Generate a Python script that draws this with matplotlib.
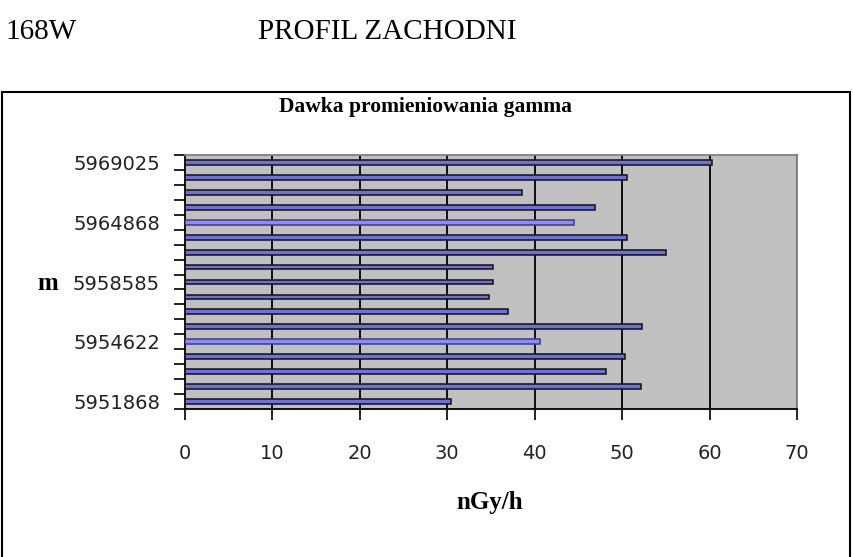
import matplotlib
matplotlib.use("Agg")
import matplotlib.pyplot as plt
from matplotlib.patches import Rectangle


# northing labels, top to bottom (only every 4th one is printed on the chart)
northing = [
    "5969025", "", "", "",
    "5964868", "", "", "",
    "5958585", "", "", "",
    "5954622", "", "", "",
    "5951868"
]

# gamma dose rate, nGy/h, top to bottom
dose = [
    60.3, 50.6, 38.5, 46.9,
    44.5, 50.6, 55.0, 35.2,
    35.2, 34.8, 37.0, 52.3,
    40.6, 50.3, 48.2, 52.1,
    30.4
]

# bars drawn in the lighter shade
light_bars = [4, 12]

xticks = [0, 10, 20, 30, 40, 50, 60, 70]


fig = plt.figure(figsize=(8.54, 5.57), dpi=100)
ax = fig.add_axes([185 / 854, 1 - 409 / 557, 612 / 854, 254 / 557])

ax.set_facecolor("#c0c0c0")

pos = list(range(len(dose)))
colors = ["#8c8cff" if i in light_bars else "#6f6fe0" for i in pos]
edges = ["#3c3c7c" if i in light_bars else "#111111" for i in pos]

ax.barh(pos, dose, height=0.32, color=colors, edgecolor=edges,
        linewidth=1.1, zorder=3)

ax.set_xlim(0, 70)
ax.set_ylim(len(dose) - 0.5, -0.5)

ax.set_xticks(xticks)
ax.set_xticklabels([str(t) for t in xticks])
for t in xticks[1:]:
    ax.axvline(t, color="black", linewidth=1.3, zorder=2)

# category boundary ticks, labels on every 4th category
ax.set_yticks([p - 0.5 for p in pos] + [len(dose) - 0.5], minor=True)
label_pos = [p for p in pos if northing[p]]
ax.set_yticks(label_pos)
ax.set_yticklabels([northing[p] for p in label_pos])

ax.tick_params(axis="y", which="major", length=0, pad=18,
               labelsize=14, labelcolor="#222222")
ax.tick_params(axis="y", which="minor", length=8, width=1.2, direction="out")
ax.tick_params(axis="x", length=8, width=1.2, direction="out", pad=17,
               labelsize=14, labelcolor="#222222")

for s in ["left", "bottom"]:
    ax.spines[s].set_color("black")
    ax.spines[s].set_linewidth(1.3)
for s in ["top", "right"]:
    ax.spines[s].set_color("#808080")
    ax.spines[s].set_linewidth(1.3)

serif = ["Liberation Serif", "DejaVu Serif"]

fig.text(426 / 854, 1 - 107 / 557, "Dawka promieniowania gamma",
         family=serif, weight="bold", fontsize=15.5, ha="center", va="center")
fig.text(490 / 854, 1 - 503 / 557, "nGy/h",
         family=serif, weight="bold", fontsize=18, ha="center", va="center")
fig.text(48 / 854, 1 - 284 / 557, "m",
         family=serif, weight="bold", fontsize=18, ha="center", va="center")

fig.text(5 / 854, 1 - 32 / 557, "168W", family=serif, fontsize=21,
         ha="left", va="center")
fig.text(258 / 854, 1 - 32 / 557, "PROFIL ZACHODNI", family=serif,
         fontsize=21, ha="left", va="center")

# outer chart frame
fig.patches.append(Rectangle((2 / 854, -0.02), 848 / 854, 1.02 - 92 / 557,
                             transform=fig.transFigure, fill=False,
                             edgecolor="black", linewidth=1.5))

fig.savefig("out.png", dpi=100)
